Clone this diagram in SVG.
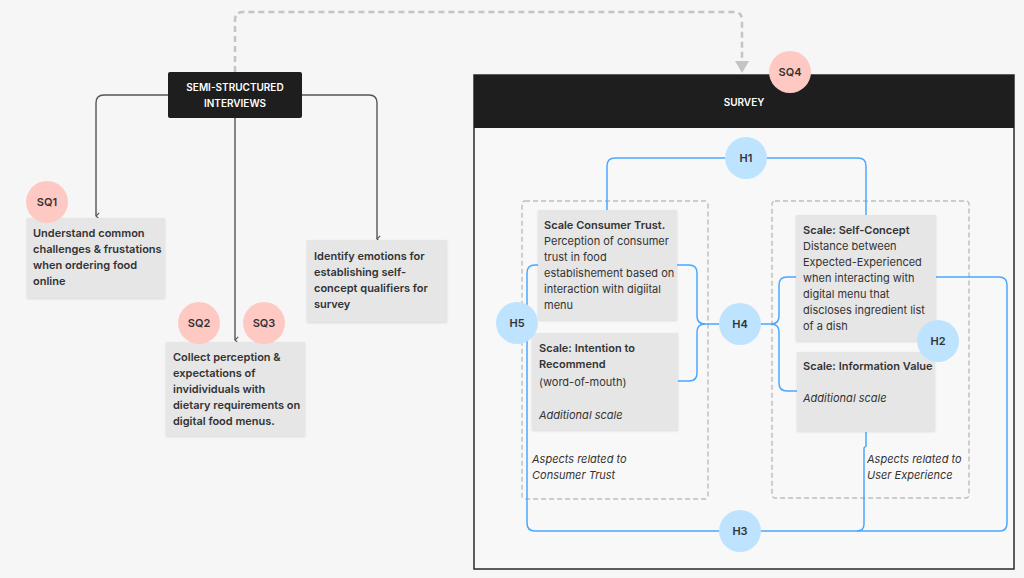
<svg xmlns="http://www.w3.org/2000/svg" width="1024" height="578" viewBox="0 0 1024 578">
<style>
text{font-family:Inter,"Noto Sans","Liberation Sans",sans-serif;fill:#333}
.b{font-weight:600;font-size:11px}
.r{font-size:11px}
.i{font-size:11px;font-style:italic}
.w{fill:#fff;font-weight:600;font-size:10px}
.card{fill:#e6e6e6}
.pk{fill:#ffc9c3}
.bl{fill:#bde3ff}
.lbl{font-weight:600;font-size:11px;text-anchor:middle}
.gc{fill:none;stroke:#555;stroke-width:1.4}
.bc{fill:none;stroke:#4aa8ff;stroke-width:1.5}
.grp{fill:none;stroke:#bdbdbd;stroke-width:1.4;stroke-dasharray:5 3}
</style>
<defs>
<filter id="sh" x="-10%" y="-10%" width="120%" height="130%"><feDropShadow dx="0" dy="1" stdDeviation="1" flood-color="#000" flood-opacity="0.12"/></filter>
<marker id="ar" viewBox="0 0 10 10" refX="5" refY="8" markerWidth="8" markerHeight="8" orient="auto-start-reverse" markerUnits="userSpaceOnUse"><path d="M1,4 L5,8 L9,4" fill="none" stroke="#555" stroke-width="1.4"/></marker>
</defs>
<rect width="1024" height="578" fill="#f6f6f6"/>

<g id="connectors">
<path d="M235,72 V20 Q235,12 243,12 H734 Q742,12 742,20 V62" fill="none" stroke="#c4c4c4" stroke-width="2.5" stroke-dasharray="6 4"/>
<path d="M735,61 L749,61 L742,73 Z" fill="#c4c4c4"/>
<path class="gc" d="M168,95 H104 Q96,95 96,103 V216" marker-end="url(#ar)"/>
<path class="gc" d="M235,118 V340" marker-end="url(#ar)"/>
<path class="gc" d="M302,95 H369 Q377,95 377,103 V239" marker-end="url(#ar)"/>
</g>

<g id="survey">
<rect x="474" y="75" width="540" height="494" fill="#f8f8f8" stroke="#2a2a2a" stroke-width="1.5"/>
<rect x="474" y="75" width="540" height="53" fill="#1e1e1e"/>
<text class="w" x="744" y="106" text-anchor="middle">SURVEY</text>
</g>

<g id="groups">
<rect class="grp" x="522" y="201" width="186" height="298" rx="3"/>
<rect class="grp" x="772" y="201" width="197" height="297" rx="3"/>
</g>

<g id="blue-connectors">
<path class="bc" d="M607,210 V166 Q607,158 615,158 H730"/>
<path class="bc" d="M762,158 H858 Q866,158 866,166 V215"/>
<path class="bc" d="M538,265 H535 Q527,265 527,273 V523 Q527,531 535,531 H1000 Q1007,531 1007,523 V285 Q1007,277 999,277 H936"/>
<path class="bc" d="M866,432 V446 L864,448 V524 Q864,531 857,531"/>
<path class="bc" d="M677,265 H689 Q697,265 697,273 V316 Q697,324 705,324 H725"/>
<path class="bc" d="M678,381 H689 Q697,381 697,373 V332 Q697,324 705,324"/>
<path class="bc" d="M796,277 H787 Q779,277 779,285 V316 Q779,324 771,324 H755"/>
<path class="bc" d="M797,391 H787 Q779,391 779,383 V332 Q779,324 771,324"/>
</g>

<g id="semi-structured">
<rect x="168" y="72" width="134" height="46" rx="2" fill="#1e1e1e"/>
<text class="w" x="235" y="91" text-anchor="middle">SEMI-STRUCTURED</text>
<text class="w" x="235" y="107" text-anchor="middle">INTERVIEWS</text>
</g>

<g id="card-sq1">
<rect class="card" x="27" y="218" width="138" height="80" filter="url(#sh)"/>
<text class="b" x="33" y="237">Understand common</text>
<text class="b" x="33" y="253">challenges &amp; frustations</text>
<text class="b" x="33" y="269">when ordering food</text>
<text class="b" x="33" y="285">online</text>
</g>

<g id="card-sq23">
<rect class="card" x="166" y="342" width="139" height="94" filter="url(#sh)"/>
<text class="b" x="173" y="361">Collect perception &amp;</text>
<text class="b" x="173" y="377">expectations of</text>
<text class="b" x="173" y="393">invidividuals with</text>
<text class="b" x="173" y="409">dietary requirements on</text>
<text class="b" x="173" y="425">digital food menus.</text>
</g>

<g id="card-emotions">
<rect class="card" x="307" y="240" width="140" height="82" filter="url(#sh)"/>
<text class="b" x="314" y="260">Identify emotions for</text>
<text class="b" x="314" y="276">establishing self-</text>
<text class="b" x="314" y="292">concept qualifiers for</text>
<text class="b" x="314" y="308">survey</text>
</g>

<g id="card-consumer-trust">
<rect class="card" x="538" y="210" width="139" height="110" filter="url(#sh)"/>
<text class="b" x="544" y="229">Scale Consumer Trust.</text>
<text class="r" x="544" y="245">Perception of consumer</text>
<text class="r" x="544" y="261">trust in food</text>
<text class="r" x="544" y="277">establishement based on</text>
<text class="r" x="544" y="293">interaction with digiital</text>
<text class="r" x="544" y="309">menu</text>
</g>

<g id="card-intention">
<rect class="card" x="532" y="333" width="146" height="97" filter="url(#sh)"/>
<text class="b" x="539" y="352">Scale: Intention to</text>
<text class="b" x="539" y="368">Recommend</text>
<text class="r" x="539" y="386">(word-of-mouth)</text>
<text class="i" x="539" y="419">Additional scale</text>
</g>
<g id="label-consumer-trust">
<text class="i" x="532" y="463">Aspects related to</text>
<text class="i" x="532" y="479">Consumer Trust</text>
</g>

<g id="card-self-concept">
<rect class="card" x="796" y="215" width="140" height="126" filter="url(#sh)"/>
<text class="b" x="803" y="234">Scale: Self-Concept</text>
<text class="r" x="803" y="250">Distance between</text>
<text class="r" x="803" y="266">Expected-Experienced</text>
<text class="r" x="803" y="282">when interacting with</text>
<text class="r" x="803" y="298">digital menu that</text>
<text class="r" x="803" y="314">discloses ingredient list</text>
<text class="r" x="803" y="330">of a dish</text>
</g>

<g id="card-information">
<rect class="card" x="797" y="352" width="138" height="79" filter="url(#sh)"/>
<text class="b" x="803" y="370">Scale: Information Value</text>
<text class="i" x="803" y="402">Additional scale</text>
</g>
<g id="label-ux">
<text class="i" x="867" y="463">Aspects related to</text>
<text class="i" x="867" y="479">User Experience</text>
</g>

<g id="sq1"><circle class="pk" cx="47" cy="202" r="21"/><text class="lbl" x="47" y="206">SQ1</text></g>
<g id="sq2"><circle class="pk" cx="199" cy="323" r="21"/><text class="lbl" x="199" y="327">SQ2</text></g>
<g id="sq3"><circle class="pk" cx="264" cy="323" r="21"/><text class="lbl" x="264" y="327">SQ3</text></g>
<g id="sq4"><circle class="pk" cx="790" cy="72" r="21"/><text class="lbl" x="790" y="76">SQ4</text></g>

<g id="h1"><circle class="bl" cx="746" cy="158" r="21"/><text class="lbl" x="746" y="162">H1</text></g>
<g id="h2"><circle class="bl" cx="938" cy="341" r="21"/><text class="lbl" x="938" y="345">H2</text></g>
<g id="h3"><circle class="bl" cx="740" cy="531" r="21"/><text class="lbl" x="740" y="535">H3</text></g>
<g id="h4"><circle class="bl" cx="740" cy="324" r="21"/><text class="lbl" x="740" y="328">H4</text></g>
<g id="h5"><circle class="bl" cx="517" cy="323" r="21"/><text class="lbl" x="517" y="327">H5</text></g>
</svg>
